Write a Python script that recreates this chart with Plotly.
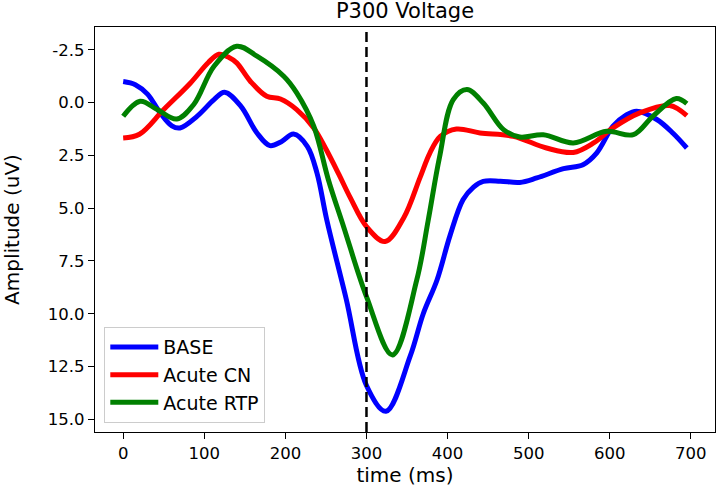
import plotly.graph_objects as go

# ---- data ----
base_t = [0, 15, 30, 45, 60, 70, 91, 112, 125, 145, 165, 181, 195, 210, 227, 239, 251, 275, 300, 324, 354, 370, 387, 403, 419, 432, 444, 465, 489, 510, 543, 567, 584, 604, 620, 633, 658, 678, 695]
base_v = [-1.0, -0.85, -0.4, 0.45, 1.1, 1.2, 0.65, -0.14, -0.49, 0.17, 1.44, 2.04, 1.85, 1.49, 2.07, 3.34, 5.55, 9.3, 13.4, 14.62, 12.0, 10.0, 8.4, 6.3, 4.6, 4.0, 3.73, 3.72, 3.78, 3.57, 3.13, 2.94, 2.38, 1.12, 0.6, 0.41, 0.8, 1.45, 2.15]

cn_t = [0, 20, 50, 83, 105, 118, 130, 140, 157, 177, 194, 214, 235, 250, 266, 280, 300, 323, 346, 366, 378, 391, 411, 440, 481, 522, 555, 580, 604, 637, 674, 695]
cn_v = [1.68, 1.5, 0.33, -0.93, -1.9, -2.29, -2.15, -1.88, -1.0, -0.3, -0.17, 0.33, 1.2, 2.2, 3.4, 4.5, 5.87, 6.58, 5.45, 3.55, 2.4, 1.6, 1.25, 1.44, 1.6, 2.15, 2.36, 1.91, 1.2, 0.49, 0.14, 0.62]

rtp_t = [0, 21, 42, 66, 87, 112, 140, 165, 198, 214, 235, 253, 272, 300, 332, 362, 376, 390, 407, 424, 444, 469, 489, 518, 555, 596, 629, 653, 682, 695]
rtp_v = [0.65, -0.06, 0.33, 0.78, 0.09, -1.72, -2.67, -2.2, -1.25, -0.46, 1.12, 3.65, 5.9, 9.19, 11.95, 8.4, 5.6, 2.6, -0.14, -0.62, 0.02, 1.28, 1.63, 1.52, 1.91, 1.36, 1.52, 0.65, -0.19, 0.05]

series_names = ["BASE", "Acute CN", "Acute RTP"]
stim_time = 300
x_ticks = [0, 100, 200, 300, 400, 500, 600, 700]
y_ticks = [-2.5, 0.0, 2.5, 5.0, 7.5, 10.0, 12.5, 15.0]
y_tick_text = [f"{v:.1f}" for v in y_ticks]  # hyphen minus as in the reference

colors = ["#0000ff", "#ff0000", "#008000"]
FONT = "DejaVu Sans"

fig = go.Figure()
for name, t, v, c in zip(series_names, [base_t, cn_t, rtp_t], [base_v, cn_v, rtp_v], colors):
    fig.add_trace(go.Scatter(x=t, y=v, mode="lines", name=name,
                             line=dict(color=c, width=5, shape="spline", smoothing=1.0)))

fig.add_vline(x=stim_time, line=dict(color="black", width=2.5, dash="10px,5px"))

fig.update_layout(
    width=718, height=487,
    margin=dict(l=95, r=3, t=27, b=55),
    paper_bgcolor="white", plot_bgcolor="white",
    font=dict(family=FONT, size=16.5, color="black"),
    title=dict(text="P300 Voltage", x=0.5, xanchor="center", xref="paper",
               y=1.0, yref="paper", yanchor="bottom", pad=dict(b=9), font=dict(size=21)),
    showlegend=True,
    legend=dict(x=0.015, y=0.022, xanchor="left", yanchor="bottom",
                bordercolor="#cccccc", borderwidth=1, bgcolor="rgba(255,255,255,0.8)",
                font=dict(size=19), tracegroupgap=0, itemwidth=48),
    xaxis=dict(range=[-34.75, 729.75], tickvals=x_ticks, ticks="outside", ticklen=6,
               tickwidth=1.3, tickcolor="black", showline=True, linecolor="black",
               linewidth=1.3, mirror=True, showgrid=False, zeroline=False, automargin=False,
               title=dict(text="time (ms)", standoff=6)),
    yaxis=dict(range=[15.6, -3.58], tickvals=y_ticks, ticktext=y_tick_text, ticks="outside",
               ticklen=6, tickwidth=1.3, tickcolor="black", showline=True,
               linecolor="black", linewidth=1.3, mirror=True, showgrid=False,
               zeroline=False, automargin=False,
               title=dict(text="Amplitude (uV)", standoff=26)),
)

fig.write_html("out.html", config={"displayModeBar": False},
               post_script="document.body.style.margin='0px';document.body.style.overflow='hidden';")
